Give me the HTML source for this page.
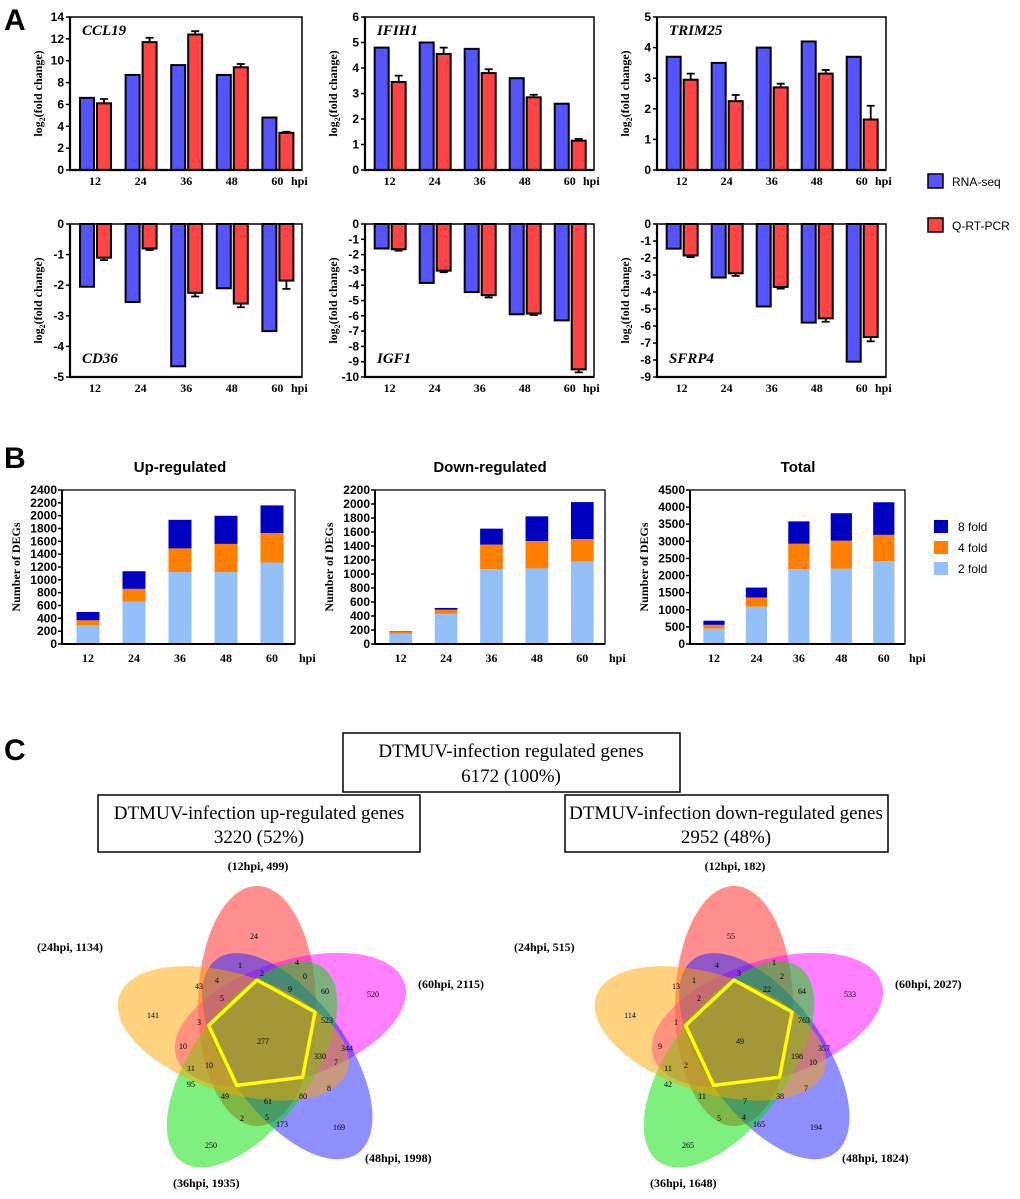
<!DOCTYPE html>
<html><head><meta charset="utf-8"><style>
body{margin:0;background:#fff}
svg{display:block}
.t{font-family:"Liberation Sans",Arial,sans-serif;font-weight:bold;font-size:12px}
.s{font-family:"Liberation Serif",serif;font-weight:bold;font-size:12px}
</style></head><body>
<svg id="fig" width="1020" height="1199" xmlns="http://www.w3.org/2000/svg">
<text x="4" y="30" font-family="Liberation Sans" font-weight="bold" font-size="30">A</text>
<text x="4" y="468" font-family="Liberation Sans" font-weight="bold" font-size="30">B</text>
<text x="4" y="760" font-family="Liberation Sans" font-weight="bold" font-size="30">C</text>
<g>
<rect x="928" y="174" width="15" height="14" fill="#5555ff" stroke="#000" stroke-width="1.5"/>
<text x="952" y="186" font-family="Liberation Sans" font-size="12">RNA-seq</text>
<rect x="928" y="218" width="15" height="14" fill="#ff4444" stroke="#000" stroke-width="1.5"/>
<text x="952" y="230" font-family="Liberation Sans" font-size="12">Q-RT-PCR</text>
</g>
<g>
<rect x="934" y="520" width="14" height="13" fill="#0000c0"/>
<text x="958" y="531" font-family="Liberation Sans" font-size="12">8 fold</text>
<rect x="934" y="541" width="14" height="13" fill="#ff8000"/>
<text x="958" y="552" font-family="Liberation Sans" font-size="12">4 fold</text>
<rect x="934" y="562" width="14" height="13" fill="#94bff7"/>
<text x="958" y="573" font-family="Liberation Sans" font-size="12">2 fold</text>
</g>
<g>
<text x="180" y="472" text-anchor="middle" font-family="Liberation Sans" font-weight="bold" font-size="15">Up-regulated</text>
<text x="490" y="472" text-anchor="middle" font-family="Liberation Sans" font-weight="bold" font-size="15">Down-regulated</text>
<text x="798" y="472" text-anchor="middle" font-family="Liberation Sans" font-weight="bold" font-size="15">Total</text>
</g>
<g font-family="Liberation Serif" font-size="19" text-anchor="middle">
<rect x="343" y="733" width="337" height="59" fill="none" stroke="#000" stroke-width="1.5"/>
<text x="511" y="757">DTMUV-infection regulated genes</text>
<text x="511" y="782">6172 (100%)</text>
<rect x="98" y="795" width="322" height="57" fill="none" stroke="#000" stroke-width="1.5"/>
<text x="259" y="819">DTMUV-infection up-regulated genes</text>
<text x="259" y="843">3220 (52%)</text>
<rect x="565" y="795" width="323" height="57" fill="none" stroke="#000" stroke-width="1.5"/>
<text x="726" y="819">DTMUV-infection down-regulated genes</text>
<text x="726" y="843">2952 (48%)</text>
</g>
</svg>
<script>
const NS="http://www.w3.org/2000/svg";
const svg=document.getElementById('fig');
function el(tag,attrs,parent,txt){const e=document.createElementNS(NS,tag);for(const k in attrs)e.setAttribute(k,attrs[k]);if(txt!==undefined)e.textContent=txt;(parent||svg).appendChild(e);return e;}

// ---- Panel A data ----
const hpi=["12","24","36","48","60"];
const ccl19Rna=[6.6,8.7,9.6,8.7,4.8];
const ccl19Pcr=[6.1,11.7,12.4,9.4,3.4];
const ccl19Err=[0.4,0.4,0.3,0.3,0.1];
const ifih1Rna=[4.8,5.0,4.75,3.6,2.6];
const ifih1Pcr=[3.45,4.55,3.8,2.85,1.15];
const ifih1Err=[0.25,0.25,0.15,0.1,0.07];
const trim25Rna=[3.7,3.5,4.0,4.2,3.7];
const trim25Pcr=[2.95,2.25,2.7,3.15,1.65];
const trim25Err=[0.2,0.2,0.12,0.12,0.45];
const cd36Rna=[-2.05,-2.55,-4.65,-2.1,-3.5];
const cd36Pcr=[-1.1,-0.8,-2.25,-2.6,-1.85];
const cd36Err=[0.08,0.05,0.12,0.12,0.27];
const igf1Rna=[-1.6,-3.85,-4.45,-5.9,-6.3];
const igf1Pcr=[-1.65,-3.05,-4.65,-5.85,-9.5];
const igf1Err=[0.1,0.1,0.15,0.1,0.2];
const sfrp4Rna=[-1.45,-3.15,-4.85,-5.8,-8.1];
const sfrp4Pcr=[-1.85,-2.9,-3.7,-5.55,-6.65];
const sfrp4Err=[0.1,0.15,0.1,0.2,0.25];

function chartA(name,gene,x0,x1,yT,yB,min,max,step,rna,pcr,err,geneY){
  const g=el('g',{});
  
  
  const Y=v=>yB-(v-min)/(max-min)*(yB-yT);
  const sx=(x1-x0)/232;
  const X=i=>x0+(25+i*45.6)*sx;
  const zero=Y(0);
  rna.forEach((v,i)=>{
    const c=X(i);
    const b=el('rect',{x:c-15,y:Math.min(Y(v),zero),width:14,height:Math.abs(Y(v)-zero),fill:'#5555ff',stroke:'#000','stroke-width':2},g);
    
    
    const p=pcr[i],e=err[i];
    const r=el('rect',{x:c+2,y:Math.min(Y(p),zero),width:14,height:Math.abs(Y(p)-zero),fill:'#ff4444',stroke:'#000','stroke-width':2},g);
    
    
    const ee=p+(p>=0?e:-e);
    const eb=el('path',{d:`M${c+9} ${Y(p)}V${Y(ee)}M${c+5} ${Y(ee)}H${c+13}`,stroke:'#000','stroke-width':1.8,fill:'none'},g);
    
    
    const t=el('text',{x:c,y:yB+15,'text-anchor':'middle',class:'s'},g,hpi[i]);
    
    
  });
  const hl=el('text',{x:x1-11,y:yB+15,class:'s'},g,'hpi');
  
  
  const fr=el('rect',{x:x0,y:yT,width:x1-x0,height:yB-yT,fill:'none',stroke:'#000','stroke-width':1.5},g);
  
  
  el('path',{d:`M${x0} ${yT}V${yB}H${x1}`,stroke:'#000','stroke-width':2.2,fill:'none'},g);
  for(let v=min;v<=max+1e-9;v+=step){
    el('line',{x1:x0-4,x2:x0,y1:Y(v),y2:Y(v),stroke:'#000','stroke-width':1.5},g);
    const tk=el('text',{x:x0-6,y:Y(v)+4,'text-anchor':'end',class:'t'},g,String(Math.round(v)));
    
    
  }
  const yl=el('text',{transform:`translate(${x0-28},${(yT+yB)/2}) rotate(-90)`,'text-anchor':'middle',class:'s','font-size':'11'},g);
  
  
  el('tspan',{},yl,'log');el('tspan',{'font-size':'8',dy:'3'},yl,'2');el('tspan',{dy:'-3'},yl,'(fold change)');
  const gl=el('text',{x:x0+12,y:geneY,'font-family':'Liberation Serif','font-weight':'bold','font-style':'italic','font-size':'15'},g,gene);
  
  
}
chartA('ccl19','CCL19',70,302,17,170,0,14,2,ccl19Rna,ccl19Pcr,ccl19Err,35);
chartA('ifih1','IFIH1',365,594,17,170,0,6,1,ifih1Rna,ifih1Pcr,ifih1Err,35);
chartA('trim25','TRIM25',657,886,17,170,0,5,1,trim25Rna,trim25Pcr,trim25Err,35);
chartA('cd36','CD36',70,302,224,377,-5,0,1,cd36Rna,cd36Pcr,cd36Err,363);
chartA('igf1','IGF1',365,594,224,377,-10,0,1,igf1Rna,igf1Pcr,igf1Err,363);
chartA('sfrp4','SFRP4',657,886,224,377,-9,0,1,sfrp4Rna,sfrp4Pcr,sfrp4Err,363);

// ---- Panel B data ----
const upFold2=[290,660,1120,1120,1270];
const upFold4=[370,860,1490,1560,1730];
const upFold8=[499,1134,1935,1998,2160];
const downFold2=[150,430,1070,1080,1180];
const downFold4=[175,490,1420,1470,1500];
const downFold8=[182,515,1648,1824,2027];
const totFold2=[450,1090,2190,2200,2420];
const totFold4=[560,1360,2930,3020,3190];
const totFold8=[681,1649,3583,3822,4142];

function chartB(name,x0,x1,yT,yB,max,step,f2,f4,f8){
  const g=el('g',{});
  
  
  const Y=v=>yB-v/max*(yB-yT);
  const sx=(x1-x0)/233;
  const X=i=>x0+(26+i*46)*sx;
  const w=23*sx;
  f2.forEach((v,i)=>{
    const c=X(i);
    const a=el('rect',{x:c-w/2,y:Y(v),width:w,height:yB-Y(v),fill:'#94bff7'},g);
    
    
    const b=el('rect',{x:c-w/2,y:Y(f4[i]),width:w,height:Y(v)-Y(f4[i]),fill:'#ff8000'},g);
    
    
    const d=el('rect',{x:c-w/2,y:Y(f8[i]),width:w,height:Y(f4[i])-Y(f8[i]),fill:'#0000c0'},g);
    
    
    const t=el('text',{x:c,y:yB+18,'text-anchor':'middle',class:'s'},g,hpi[i]);
    
    
  });
  const hl=el('text',{x:x1+4,y:yB+18,class:'s'},g,'hpi');
  
  
  const fr=el('rect',{x:x0,y:yT,width:x1-x0,height:yB-yT,fill:'none',stroke:'#000','stroke-width':1.3},g);
  
  
  el('path',{d:`M${x0} ${yT}V${yB}H${x1}`,stroke:'#000','stroke-width':2,fill:'none'},g);
  for(let v=0;v<=max;v+=step){
    el('line',{x1:x0-4,x2:x0,y1:Y(v),y2:Y(v),stroke:'#000','stroke-width':1.5},g);
    const tk=el('text',{x:x0-5,y:Y(v)+4,'text-anchor':'end',class:'t','font-size':'11.5'},g,String(v));
    
    
  }
  const yl=el('text',{transform:`translate(${x0-42},${(yT+yB)/2}) rotate(-90)`,'text-anchor':'middle',class:'s','font-size':'11'},g,'Number of DEGs');
  
  
}
chartB('up-regulated',62,295,490,644,2400,200,upFold2,upFold4,upFold8);
chartB('down-regulated',375,605,490,644,2200,200,downFold2,downFold4,downFold8);
chartB('total',690,905,490,644,4500,500,totFold2,totFold4,totFold8);

// ---- Panel C venn ----
const vennOffsets=[[-10,-100],[-24,-71],[33,-74],[-2,-63],[41,-60],[-65,-50],[-47,-56],[26,-47],[61,-45],[109,-42],[-111,-21],[-42,-38],[63,-16],[-65,-14],[-1,5],[-81,10],[83,12],[56,20],[72,26],[-73,32],[-55,29],[-73,48],[-39,60],[4,65],[39,60],[65,52],[-22,82],[3,81],[18,88],[75,91],[-53,109]];
const upVals=[24,1,4,2,0,43,4,9,60,520,141,5,523,3,277,10,344,330,7,11,10,95,49,61,80,8,2,5,173,169,250];
const downVals=[55,4,1,3,2,13,1,22,64,533,114,2,763,1,49,9,357,198,10,11,2,42,11,7,38,7,5,4,165,194,265];
const upSetLabels=["(12hpi, 499)","(60hpi, 2115)","(48hpi, 1998)","(36hpi, 1935)","(24hpi, 1134)"];
const downSetLabels=["(12hpi, 182)","(60hpi, 2027)","(48hpi, 1824)","(36hpi, 1648)","(24hpi, 515)"];
const vennColors=['#ff2020','#ff00ff','#2020ff','#00e000','#ffa500'];
const labelPos=[[-6,-166,'middle'],[154,-48,'start'],[101,126,'start'],[-91,151,'start'],[-227,-85,'start']];
function venn(name,cx,cy,vals,labels){
  const g=el('g',{});
  
  
  vennColors.forEach((col,i)=>{
    const e=el('ellipse',{cx:-7,cy:-30,rx:59,ry:120,fill:col,'fill-opacity':0.5,transform:`translate(${cx},${cy}) rotate(${i*72})`},g);
    
    
  });
  let pts=[];
  for(let i=0;i<5;i++){const a=i*72*Math.PI/180,x=-7,y=-56;pts.push((cx+x*Math.cos(a)-y*Math.sin(a)).toFixed(1)+','+(cy+x*Math.sin(a)+y*Math.cos(a)).toFixed(1));}
  const pg=el('polygon',{points:pts.join(' '),fill:'none',stroke:'#ffff00','stroke-width':3.5,'stroke-linejoin':'round'},g);
  
  
  vals.forEach((v,i)=>{
    const t=el('text',{x:cx+vennOffsets[i][0],y:cy+vennOffsets[i][1]+3,'text-anchor':'middle','font-family':'Liberation Serif','font-size':'8'},g,String(v));
    
    
  });
  labels.forEach((l,i)=>{
    const p=labelPos[i];
    const t=el('text',{x:cx+p[0],y:cy+p[1],'text-anchor':p[2],class:'s','font-size':'13'},g,l);
    
    
  });
}
venn('up',264,1036,upVals,upSetLabels);
venn('down',741,1036,downVals,downSetLabels);
</script>
</body></html>
